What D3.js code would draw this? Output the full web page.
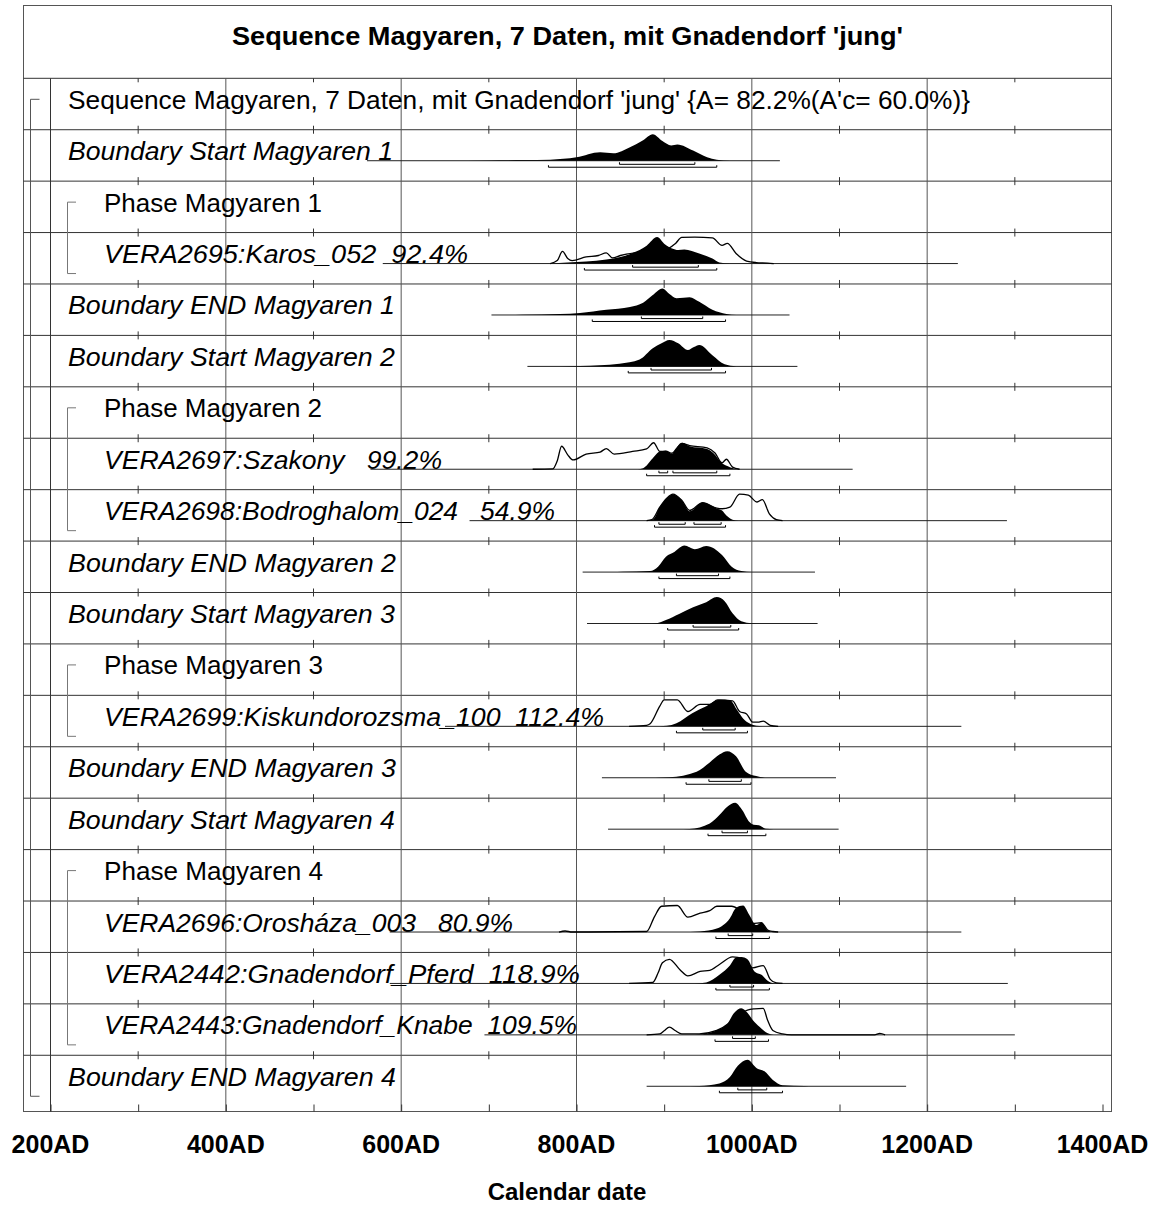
<!DOCTYPE html>
<html><head><meta charset="utf-8">
<script src="https://cdn.jsdelivr.net/npm/d3@7"></script>
<style>body{margin:0;background:#fff} text{white-space:pre}</style></head>
<body><svg id="c" width="1157" height="1205"></svg>
<script>
// ---------------- DATA ----------------
const chartTitle = "Sequence Magyaren, 7 Daten, mit Gnadendorf 'jung'";
const axisTitle = "Calendar date";
const tickYears = [200, 400, 600, 800, 1000, 1200, 1400];
const minorTickYears = [300, 500, 700, 900, 1100, 1300];

const rowLabels = [
  "Sequence Magyaren, 7 Daten, mit Gnadendorf 'jung' {A= 82.2%(A'c= 60.0%)}",
  "Boundary Start Magyaren 1",
  "Phase Magyaren 1",
  "VERA2695:Karos_052  92.4%",
  "Boundary END Magyaren 1",
  "Boundary Start Magyaren 2",
  "Phase Magyaren 2",
  "VERA2697:Szakony   99.2%",
  "VERA2698:Bodroghalom_024   54.9%",
  "Boundary END Magyaren 2",
  "Boundary Start Magyaren 3",
  "Phase Magyaren 3",
  "VERA2699:Kiskundorozsma_100  112.4%",
  "Boundary END Magyaren 3",
  "Boundary Start Magyaren 4",
  "Phase Magyaren 4",
  "VERA2696:Orosháza_003   80.9%",
  "VERA2442:Gnadendorf_Pferd  118.9%",
  "VERA2443:Gnadendorf_Knabe  109.5%",
  "Boundary END Magyaren 4"
];
const rowKinds = ["sequence","boundary","phase","date","boundary","boundary","phase","date","date","boundary",
                  "boundary","phase","date","boundary","boundary","phase","date","date","date","boundary"];
// phases: [first row, last row]
const phaseSpans = [[2,3],[6,8],[11,12],[15,18]];

// posterior densities [year, relative probability]
const postStart1 = [[650,0],[700,0.3],[740,0.6],[770,1],[800,3.3],[827,8.3],[842,7.3],[861,13.3],[876,20],[887,26],[898,19.3],[908,15],[915,16],[933,10],[949,3.3],[960,1],[975,0]];
const postKaros = [[770,0],[790,1],[811,2],[834,4],[850,6.5],[864,10.6],[880,18],[892,26.6],[900,20],[909,15],[916,13.5],[923,14],[940,10],[955,5],[963,1],[975,0]];
const priorKaros = [[770,0],[778,3],[784,12],[790,5],[795,3],[811,6.6],[825,8],[834,10.6],[841,5.6],[850,8],[870,11],[890,13],[906,15.6],[913,20],[920,26],[935,26.3],[955,25.5],[966,18],[972,20],[982,10],[994,2.5],[1005,1],[1018,0.5],[1025,0]];
const postEnd1 = [[720,0],[739,0.3],[781,1],[804,2],[834,5],[861,7.6],[876,11.6],[887,19],[898,25.3],[906,20],[914,16],[922,16.5],[929,17],[940,12.6],[955,5],[971,1],[982,0]];
const postStart2 = [[780,0],[804,0.5],[849,2.7],[872,6.7],[887,17.7],[897,22.7],[906,26],[916,22.7],[927,16],[934,19],[940,21],[955,11],[969,2],[982,0]];
const priorSzakony = [[750,0],[773,0.3],[778,8],[783,22.3],[790,14],[796,9],[811,14.7],[827,16.7],[834,20],[843,14.7],[864,17.3],[880,19.7],[888,25.7],[895,17.3],[902,17.5],[909,15.5],[914,20],[920,25],[929,23],[949,20.7],[958,15.7],[966,6.3],[971,9.7],[978,2],[986,0]];
const postSzakony = [[870,0],[876,1],[887,10.7],[895,17.3],[902,18],[909,15],[914,20.7],[921,25.7],[929,22.3],[949,19.7],[956,15.7],[966,5.7],[975,2],[982,0]];
const priorBodrog = [[880,0],[886,1],[895,13.3],[903,22],[910,26],[920,20],[929,10],[944,17.7],[960,12.3],[966,11.7],[975,13.3],[986,26],[996,25],[1006,18.3],[1012,20.7],[1020,6.7],[1028,1],[1035,0]];
const postBodrog = [[880,0],[887,1],[895,13.3],[903,22],[910,26],[920,20],[929,9.3],[944,17.7],[960,12],[966,10],[971,5],[978,1],[985,0]];
const postEnd2 = [[840,0],[853,0.3],[884,1],[893,5.3],[902,15.3],[912,20.3],[923,26.3],[935,22.7],[948,26],[966,17],[977,5.3],[988,1],[1000,0]];
const postStart3 = [[880,0],[891,0.3],[902,3.3],[917,9.3],[933,15.7],[948,20.7],[960,25.7],[969,21.7],[978,10],[988,2.3],[1000,0.3],[1010,0]];
const priorKisk = [[860,0],[880,1],[884,2.4],[895,19],[900,25],[915,25],[927,14],[941,20.7],[952,20.7],[961,25],[978,24],[986,14],[994,11.7],[1001,4],[1007,4],[1013,5],[1021,1],[1030,0]];
const postKisk = [[895,0],[903,0.5],[914,3],[932,12.4],[948,19],[963,25],[975,24.7],[983,15.7],[990,7.4],[998,2.4],[1005,0.5],[1012,0]];
const postEnd3 = [[890,0],[906,0.5],[937,6],[952,15],[963,22.7],[972,26],[982,21],[993,6],[1005,1.7],[1015,0]];
const postStart4 = [[915,0],[929,0.3],[952,5.7],[963,14],[972,22.3],[981,26.3],[989,19],[997,7.3],[1002,4.5],[1008,4],[1016,0.5],[1025,0]];
const priorOros = [[780,0],[787,1],[795,0],[880,0.5],[889,15],[897,25],[915,25.7],[927,14.4],[941,18.4],[952,20.7],[960,25],[977,25],[985,22],[994,15],[1001,8.4],[1011,9],[1018,2],[1024,0.5],[1030,0]];
const postOros = [[930,0],[941,0.5],[960,3.4],[975,13.4],[982,23.4],[990,25.7],[997,16.7],[1005,6.7],[1011,9],[1018,1.7],[1025,0]];
const priorPferd = [[860,0],[887,1],[893,10],[898,20],[906,23.3],[918,13.3],[927,7.3],[941,11.6],[952,12.6],[963,18.3],[978,25.6],[990,24],[1001,15],[1013,17.3],[1021,4],[1028,0.5],[1035,0]];
const postPferd = [[935,0],[948,1],[963,8.3],[975,17.3],[982,25],[988,25.6],[995,23.3],[1003,11.6],[1011,8.3],[1018,2.6],[1025,0]];
const priorKnabe = [[880,0],[895,1],[900,4],[906,7.6],[913,4],[920,1],[940,1],[960,4.3],[975,12],[985,20],[995,24.3],[1003,25.5],[1013,26],[1018,14.3],[1024,4.3],[1035,1],[1045,0],[1140,0],[1146,1.5],[1152,0]];
const postKnabe = [[935,0],[944,0.5],[960,4.3],[971,9.3],[980,21],[988,25.3],[995,21],[1001,14.3],[1009,7.6],[1016,2.6],[1025,0]];
const postEnd4 = [[920,0],[940,0.3],[963,2.7],[975,8.7],[984,19.3],[995,25],[1006,16.7],[1014,14.3],[1024,6],[1035,1],[1060,0.3],[1070,0]];

// row index -> distributions and ranges (years)
const posteriors = {1:postStart1,3:postKaros,4:postEnd1,5:postStart2,7:postSzakony,8:postBodrog,9:postEnd2,10:postStart3,12:postKisk,13:postEnd3,14:postStart4,16:postOros,17:postPferd,18:postKnabe,19:postEnd4};
const priors = {3:priorKaros,7:priorSzakony,8:priorBodrog,12:priorKisk,16:priorOros,17:priorPferd,18:priorKnabe};
const rangeExtent = {1:[561,1032],3:[579,1235],4:[703,1043],5:[744,1052],7:[565,1115],8:[678,1291],9:[807,1072],10:[812,1075],12:[650,1239],13:[829,1096],14:[836,1099],16:[587,1239],17:[587,1292],18:[695,1300],19:[880,1176]};
const range95 = {1:[[768,960]],3:[[809,960]],4:[[818,970]],5:[[859,970]],7:[[880,975]],8:[[889,970]],9:[[894,975]],10:[[904,985]],12:[[914,995]],13:[[925,999]],14:[[950,1016]],16:[[959,1020]],17:[[959,1020]],18:[[958,1019]],19:[[963,1035]]};
const range68 = {1:[[849,935]],3:[[864,939]],4:[[874,944]],5:[[885,954]],7:[[894,904],[910,960]],8:[[894,924],[934,965]],9:[[914,962]],10:[[933,976]],12:[[944,981]],13:[[951,988]],14:[[966,995]],16:[[973,1001]],17:[[975,1002]],18:[[978,1004]],19:[[984,1017]]};

// ---------------- LAYOUT ----------------
const W = 1157, H = 1205;
const frameL = 23.5, frameR = 1111.5, frameT = 5.5, plotT = 78.3, plotB = 1111.5;
const rowH = 51.42;
const labelWidths = [902,325,218,364,327,327,218,338,451,328,327,219,500,328,327,219,409,476,473,328];
const FONT = "'Liberation Sans', Arial, Helvetica, sans-serif";

const svg = d3.select("#c");
svg.append("rect").attr("width",W).attr("height",H).attr("fill","#fff");
const x = d3.scaleLinear().domain([200,1400]).range([50.5,1102.5]);
const rowTop = i => plotT + i*rowH;

// frame + title box
svg.append("rect").attr("x",frameL).attr("y",frameT).attr("width",frameR-frameL).attr("height",plotB-frameT)
  .attr("fill","none").attr("stroke","#555").attr("stroke-width",1);
svg.append("text").attr("x",(frameL+frameR)/2).attr("y",45).attr("text-anchor","middle")
  .attr("font-family",FONT).attr("font-weight","bold").attr("font-size",26)
  .attr("textLength",671).attr("lengthAdjust","spacingAndGlyphs").text(chartTitle);

// horizontal row lines
const rowLinesG = svg.append("g");
d3.range(0,20).forEach(i=>{
  rowLinesG.append("line").attr("x1",frameL).attr("x2",frameR).attr("y1",rowTop(i)).attr("y2",rowTop(i))
    .attr("stroke","#333").attr("stroke-width",1);
});
// vertical grid lines (major years) incl. inner left at 200AD
tickYears.filter(t=>t<1400).forEach(t=>{
  svg.append("line").attr("x1",x(t)).attr("x2",x(t)).attr("y1",plotT).attr("y2",plotB)
    .attr("stroke", t===200 ? "#333" : "#555").attr("stroke-width",1);
});
// minor ticks on row lines
d3.range(0,20).forEach(i=>{
  const y = rowTop(i);
  minorTickYears.forEach(t=>{
    svg.append("line").attr("x1",x(t)).attr("x2",x(t)).attr("y1", i===0 ? y : y-4).attr("y2",y+4)
      .attr("stroke","#333").attr("stroke-width",1);
  });
});
// bottom axis ticks
const axisG = svg.append("g").attr("transform",`translate(0,${plotB})`);
axisG.call(d3.axisBottom(x).tickValues(d3.range(200,1401,100)).tickSize(-7).tickFormat(""))
  .call(g=>g.select(".domain").remove())
  .call(g=>g.selectAll("line").attr("stroke","#333"));
// tick labels
svg.append("g").selectAll("text").data(tickYears).join("text")
  .attr("x",d=>x(d)).attr("y",1153).attr("text-anchor","middle")
  .attr("font-family",FONT).attr("font-weight","bold").attr("font-size",25)
  .text(d=>d+"AD");
svg.append("text").attr("x",567).attr("y",1200).attr("text-anchor","middle")
  .attr("font-family",FONT).attr("font-weight","bold").attr("font-size",24).text(axisTitle);

// sequence bracket
svg.append("path").attr("d",`M39.5,${rowTop(0)+21}H30.5V${rowTop(19)+41}H39.5`)
  .attr("fill","none").attr("stroke","#555").attr("stroke-width",1);
// phase brackets
phaseSpans.forEach(([a,b])=>{
  svg.append("path").attr("d",`M76,${rowTop(a)+21}H67.5V${rowTop(b)+41}H76`)
    .attr("fill","none").attr("stroke","#777").attr("stroke-width",1);
});

// labels
rowLabels.forEach((lab,i)=>{
  const k = rowKinds[i];
  const indent = (k==="phase"||k==="date") ? 104 : 68;
  svg.append("text").attr("x",indent).attr("y",rowTop(i)+30.5)
    .attr("font-family",FONT).attr("font-size",26)
    .attr("font-style",(k==="boundary"||k==="date")?"italic":"normal")
    .attr("textLength",labelWidths[i]).attr("lengthAdjust","spacingAndGlyphs")
    .text(lab);
});

// distributions
const curve = d3.curveMonotoneX;
d3.range(0,20).forEach(i=>{
  if(!posteriors[i]) return;
  const base = rowTop(i)+31;
  const g = svg.append("g");
  const ext = rangeExtent[i];
  g.append("line").attr("x1",x(ext[0])).attr("x2",x(ext[1])).attr("y1",base).attr("y2",base)
    .attr("stroke","#222").attr("stroke-width",1);
  const post = posteriors[i];
  const hp = d3.scaleLinear().domain([0,d3.max(post,d=>d[1])]).range([base,base-26.5]);
  g.append("path").datum(post)
    .attr("d",d3.area().x(d=>x(d[0])).y0(base).y1(d=>hp(d[1])).curve(curve))
    .attr("fill","#000");
  if(priors[i]){
    const pr = priors[i];
    const hq = d3.scaleLinear().domain([0,d3.max(pr,d=>d[1])]).range([base,base-26.5]);
    g.append("path").datum(pr)
      .attr("d",d3.line().x(d=>x(d[0])).y(d=>hq(d[1])).curve(curve))
      .attr("fill","none").attr("stroke","#000").attr("stroke-width",1.3);
  }
  (range68[i]||[]).forEach(([a,b])=>{
    g.append("path").attr("d",`M${x(a)},${base+1.5}V${base+3.6}H${x(b)}V${base+1.5}`)
      .attr("fill","none").attr("stroke","#000").attr("stroke-width",1);
  });
  (range95[i]||[]).forEach(([a,b])=>{
    g.append("path").attr("d",`M${x(a)},${base+4.5}V${base+6.5}H${x(b)}V${base+4.5}`)
      .attr("fill","none").attr("stroke","#000").attr("stroke-width",1);
  });
});
</script>
</body></html>
